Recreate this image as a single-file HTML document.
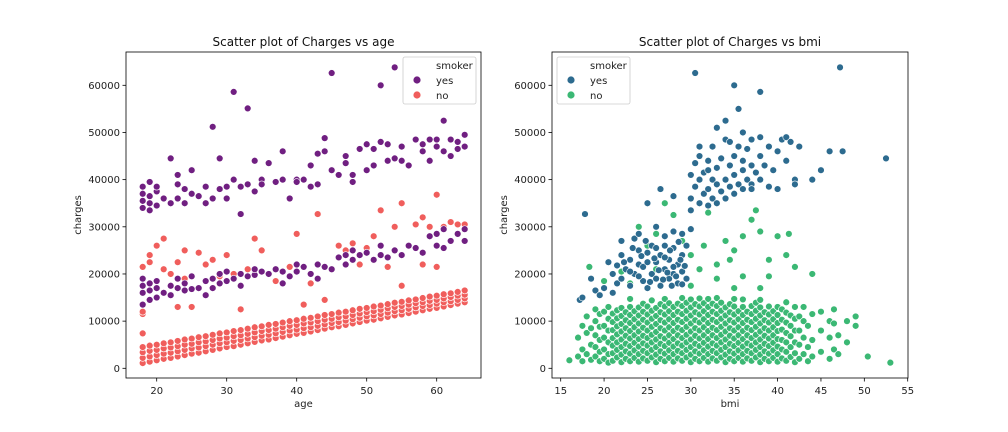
<!DOCTYPE html>
<html><head><meta charset="utf-8"><style>
body{margin:0;background:#fff;}
svg{display:block;font-family:"DejaVu Sans","Liberation Sans",sans-serif;}
</style></head><body>
<svg id="fig" width="1008" height="432" viewBox="0 0 1008 432">
<rect width="1008" height="432" fill="#fff"/>
<g id="left"></g>
<g id="right"></g>
</svg>
<script>
const ageTicks = [20, 30, 40, 50, 60];
const chargeTicks = [0, 10000, 20000, 30000, 40000, 50000, 60000];
const bmiTicks = [15, 20, 25, 30, 35, 40, 45, 50, 55];
const lowBand = [
[18,1.1,2.2,3.4,4.5],[19,1.4,2.5,3.7,4.8],[20,1.7,2.8,3.9,5.0],[21,2.0,3.1,4.2,5.3],
[22,2.2,3.3,4.4,5.5],[23,2.5,3.6,4.7,5.8],[24,2.8,3.9,5.0,6.1],[25,3.1,4.2,5.2,6.3],
[26,3.3,4.4,5.5,6.6],[27,3.6,4.7,5.7,6.8],[28,3.9,5.0,6.0,7.1],[29,4.2,5.3,6.3,7.4],
[30,4.5,5.5,6.5,7.6],[31,4.7,5.8,6.8,7.9],[32,5.0,6.0,7.0,8.1],[33,5.3,6.3,7.3,8.4],
[34,5.6,6.6,7.6,8.7],[35,5.9,6.9,7.9,8.9],[36,6.1,7.1,8.1,9.2],[37,6.4,7.4,8.4,9.4],
[38,6.7,7.7,8.7,9.7],[39,7.0,8.0,9.0,10.0],[40,7.3,8.2,9.2,10.2],[41,7.5,8.5,9.5,10.5],
[42,7.8,8.7,9.7,10.7],[43,8.1,9.0,10.0,11.0],[44,8.4,9.3,10.3,11.3],[45,8.7,9.6,10.5,11.5],
[46,8.9,9.8,10.8,11.8],[47,9.2,10.1,11.0,12.0],[48,9.5,10.4,11.3,12.3],[49,9.8,10.7,11.6,12.6],
[50,10.1,11.0,11.9,12.8],[51,10.3,11.2,12.1,13.1],[52,10.6,11.5,12.4,13.3],[53,10.9,11.8,12.7,13.6],
[54,11.2,12.1,13.0,13.9],[55,11.4,12.3,13.2,14.1],[56,11.7,12.6,13.5,14.4],[57,12.0,12.9,13.8,14.6],
[58,12.3,13.2,14.0,14.9],[59,12.6,13.4,14.3,15.2],[60,12.8,13.7,14.5,15.4],[61,13.1,14.0,14.8,15.7],
[62,13.4,14.2,15.1,15.9],[63,13.7,14.5,15.4,16.2],[64,14.0,14.8,15.6,16.5]];
const nonSmokerHigh = [[18,7.4],[18,11.5],[18,12],[18,21.5],[19,22.5],[19,24],[20,26],[21,27.5],[21,21],[22,20],[23,22.5],[23,13],[24,25],[24,19],[25,13],[26,24.5],[27,22],[28,23],[29,19.5],[30,24],[31,20],[32,12.5],[33,21],[34,27.5],[35,25],[36,20],[37,18.5],[39,21.5],[40,28.5],[41,13.5],[42,18],[43,32.7],[44,14.5],[45,21],[46,26],[47,25],[48,26.5],[49,22],[50,25.5],[51,28],[52,33.5],[53,21.5],[54,30],[55,35],[56,26],[57,30.5],[58,32],[59,30],[60,36.8],[61,30],[62,31],[63,30.5],[64,30.5],[58,22],[60,21.5],[55,17.5]];
const smokerMid = [[18,13.5],[18,16],[18,17.5],[18,19],[19,14.5],[19,16.5],[19,18],[20,15],[20,17],[20,18.5],[21,16],[22,15.5],[22,17.5],[23,17],[23,19],[24,16.5],[24,18],[25,16.8],[25,19.5],[26,17],[27,15.5],[27,18.5],[28,17],[28,19],[29,18],[29,20],[30,18.5],[30,20.5],[31,19],[32,20],[32,17.5],[33,19.5],[34,19.8],[34,21],[35,20.5],[36,20],[37,21],[38,20.5],[38,18],[39,19.5],[40,20.5],[40,22],[41,21.5],[42,20],[43,22],[43,19],[44,21.5],[45,21],[46,23.5],[47,24],[47,22],[48,23],[48,25],[49,24],[50,24.5],[51,23],[52,24],[52,26],[53,23.5],[54,25],[55,24],[56,26],[57,25.5],[58,24.5],[59,28],[60,26],[60,28.5],[61,29.5],[61,25.5],[62,27],[63,28.5],[64,29.5],[64,27]];
const smokerTop = [[18,34],[18,35.5],[18,37],[18,38.5],[19,33.5],[19,35],[19,36.5],[19,39.5],[20,34.5],[20,37.5],[20,38.5],[21,36],[22,35],[22,44.5],[23,36],[23,39],[23,41],[24,35],[24,38],[25,37],[25,42],[26,36.5],[27,38.5],[27,35],[28,51.2],[28,36],[29,44.5],[29,38],[30,38.5],[30,36],[31,58.6],[31,40],[32,32.7],[32,38.5],[33,55.1],[33,39],[34,44],[34,37.5],[35,40],[35,39],[36,43.5],[37,39.5],[38,40],[38,46],[39,36],[40,40],[40,39.5],[41,40],[42,38.5],[42,43],[43,45.5],[43,39],[44,48.8],[44,46],[45,62.6],[45,42],[46,41],[47,43.5],[47,45],[48,41],[48,39.5],[49,46.5],[50,42],[50,47.5],[51,46.5],[51,43],[52,60],[52,48],[53,44],[53,47.5],[54,63.8],[54,44.5],[55,44],[55,47],[56,43],[57,48.5],[58,46],[58,47.5],[59,48.5],[59,44],[60,48.5],[60,47],[61,52.5],[61,46],[62,48.5],[62,45],[63,48],[63,46.5],[64,49.5],[64,47]];

const greenRows = [
[16,1.7],[17,2.5,6.5],[17.5,1.5,4,9],[18,3,7.5,11],[18.5,1.8,5,8.5],[19,2.5,4.5,7,10,12.5],
[19.5,1.5,3.5,6,8.8,11.5],[20,2,4,6.5,9,12],[20.5,1.2,3,5.5,8,10.5,13],
[21,1.6,3.2,4.8,6.4,8.1,9.8,11.6],[21.5,2.3,3.9,5.5,7.2,8.9,10.6,12.3],
[22,1.3,2.9,4.5,6.1,7.8,9.4,11.1,12.8],[22.5,2.0,3.6,5.2,6.9,8.5,10.2,11.9],
[23,1.5,3.1,4.7,6.3,7.9,9.6,11.3,13.0,14.7],[23.5,2.2,3.8,5.4,7.0,8.7,10.4,12.1],
[24,1.4,3.0,4.6,6.2,7.8,9.5,11.2,12.9],[24.5,2.1,3.7,5.3,6.9,8.6,10.3,12.0,13.7],
[25,1.6,3.2,4.8,6.4,8.0,9.7,11.4,13.1],[25.5,2.3,3.9,5.5,7.1,8.8,10.5,12.2,14.4],
[26,1.3,2.9,4.5,6.1,7.7,9.4,11.1,12.8],[26.5,2.0,3.6,5.2,6.8,8.5,10.2,11.9,13.6],
[27,1.5,3.1,4.7,6.3,8.0,9.7,11.4,13.1,14.7],[27.5,2.2,3.8,5.4,7.0,8.7,10.4,12.1,13.8],
[28,1.4,3.0,4.6,6.2,7.9,9.6,11.3,13.0],[28.5,2.1,3.7,5.3,7.0,8.6,10.3,12.0,13.7],
[29,1.6,3.2,4.8,6.4,8.1,9.8,11.5,13.2,14.9],[29.5,2.3,3.9,5.5,7.1,8.8,10.5,12.2,13.9],
[30,1.3,2.9,4.5,6.1,7.8,9.5,11.2,12.9,14.6],[30.5,2.0,3.6,5.2,6.9,8.5,10.2,11.9,13.6],
[31,1.5,3.1,4.7,6.3,8.0,9.7,11.4,13.1,14.8],[31.5,2.2,3.8,5.4,7.0,8.7,10.4,12.1,13.8],
[32,1.4,3.0,4.6,6.2,7.9,9.6,11.3,13.0,14.7],[32.5,2.1,3.7,5.3,7.0,8.6,10.3,12.0,13.7],
[33,1.6,3.2,4.8,6.4,8.1,9.8,11.5,13.2,14.9],[33.5,2.3,3.9,5.5,7.1,8.8,10.5,12.2,13.9],
[34,1.3,2.9,4.5,6.1,7.8,9.5,11.2,12.9],[34.5,2.0,3.6,5.2,6.9,8.5,10.2,11.9,13.6],
[35,1.5,3.1,4.7,6.3,8.0,9.7,11.4,13.1,14.7],[35.5,2.2,3.8,5.4,7.0,8.7,10.4,12.1],
[36,1.4,3.0,4.6,6.2,7.9,9.6,11.3,13.0,14.6],[36.5,2.1,3.7,5.3,7.0,8.6,10.3,12.0],
[37,1.6,3.2,4.8,6.4,8.1,9.8,11.5,13.2],[37.5,2.3,3.9,5.5,7.1,8.8,10.5,12.2,13.9],
[38,1.3,2.9,4.5,6.1,7.8,9.5,11.2,12.9,14.5],[38.5,2.0,3.6,5.2,6.9,8.5,10.2,11.9],
[39,1.5,3.1,4.7,6.3,8.0,9.7,11.4,13.1],[39.5,2.2,3.8,5.4,7.0,8.7,10.4,12.1],
[40,1.4,3.0,4.6,6.2,7.9,9.6,11.3,13.0],[40.5,2.1,4.0,6.0,8.2,10.3,12.5],
[41,1.6,3.5,5.5,7.5,9.7,11.8,14.0],[41.5,2.4,4.5,6.8,9.0,11.2],
[42,1.3,3.2,5.5,8.0,10.5,13],[42.5,2,5,8,11],[43,3,6.5,10,13],[43.5,1.5,4.5,9],
[44,2.5,6,11.5],[45,3.5,8,12],[46,2,6.5,10],[46.5,4,9.5,12.5],[47,3,7],[48,5.5,10],
[49,9,11],[50.4,2.5],[53,1.2]];
const greenHigh = [[27,35],[28,32.5],[24,30],[25,26],[26,28.5],[30,24],[31,21],[32,33],[33,22],[34,27],[35,25],[36,28],[37,31.5],[37.5,33.5],[38,29],[40,28],[41,24],[39,23],[42,21.5],[44,20],[22,20.5],[23,18],[29,27],[33,19],[36,19.5],[38,17],[35,17],[30,17.5],[26,21],[20,18.5],[18.3,21.5],[41.3,28.5],[31.5,26],[34.5,23],[39,19.5]];
const blueLow = [[17.2,14.5],[17.5,15],[17.8,32.7],[18.5,19],[19,16.5],[19.5,15.5],[20,17],[20.5,22.5],[21,16],[21,20],[21.5,18],[22,19],[22,24],[22.5,21],[23,17.5],[23,23],[23.5,27.5],[23.5,20],[24,22],[24,25],[24.5,18.5],[24.5,21.5],[25,24.5],[25,17],[25.5,20],[25.5,26],[26,22.5],[26,19],[26.5,24],[26.5,17.5],[27,21],[27,28],[27.5,19],[27.5,23],[28,20],[28,25.5],[28.5,18],[28.5,22],[29,20.5],[29,24],[29.5,19],[29.5,26],[22,27],[24,28.5],[26,30],[27,26],[28,29],[29,28.5],[30,29.5],[26.5,38],[28,36.5],[25,35],[27.8,17.5],[28.3,19.5],[29,17.8],[23,20.5],[24,19.5],[25,22.5],[26,25.5],[27,23.5],[28,21.5],[28.8,23],[27.3,20.3],[26.3,20.8],[25.3,18.3],[24.3,23.8],[23.3,25.5],[22.3,22.5],[27.6,25],[28.6,26.8],[29.3,21.7],[21.5,21.8],[26.8,18.8],[25.8,23.3],[24.8,27]];
const blueHigh = [[30,33.5],[30,36],[30.5,38.5],[30.5,43.5],[31,35],[31,40],[31,45],[31.5,37],[31.5,41.5],[32,34.5],[32,38],[32,44],[32.5,36],[32.5,40],[32.5,47],[33,35],[33,39],[33,42.5],[33.5,37.5],[33.5,44.5],[34,36],[34,40],[34,48.5],[34.5,38.5],[34.5,43],[35,37],[35,41],[35,45],[35,60],[35.5,39],[35.5,55],[35.5,47],[36,38],[36,42],[36,50],[36.5,40],[36.5,46.5],[37,39],[37,43],[37,48.5],[37.5,41.5],[38,45],[38,40],[38,58.6],[38,49],[38.5,43],[39,38.5],[39,47],[39.5,42],[40,46],[40,38],[40.5,48.5],[41,44],[41,49],[41.5,48],[42,40],[42,39],[42.5,47],[44,40],[45,42],[46,46],[47.5,46],[47.2,63.8],[52.5,44.5],[30.5,62.6],[34,52.5],[34.5,48],[30,41],[31,47],[33,51],[36,44],[37,38],[32,42]];

const NS = 'http://www.w3.org/2000/svg';
function mk(parent, tag, attrs){const e=document.createElementNS(NS,tag);for(const k in attrs)e.setAttribute(k,attrs[k]);parent.appendChild(e);return e;}
function yScale(v){return 368.3 - v*(283/60000);}

function drawAxes(g, x0, x1, xScale, xTicks, xLabel, title){
  const frame = mk(g,'rect',{x:x0,y:52,width:x1-x0,height:326,fill:'none',stroke:'#000','stroke-width':0.8});
  
  
  xTicks.forEach(t=>{
    const x=xScale(t);
    mk(g,'line',{x1:x,x2:x,y1:378,y2:381.5,stroke:'#000','stroke-width':0.8});
    const tx=mk(g,'text',{x:x,y:394,'font-size':10,'text-anchor':'middle',fill:'#222'});
    tx.textContent=t;
    
    
  });
  chargeTicks.forEach(t=>{
    const y=yScale(t);
    mk(g,'line',{x1:x0-3.5,x2:x0,y1:y,y2:y,stroke:'#000','stroke-width':0.8});
    const ty=mk(g,'text',{x:x0-6,y:y+3.5,'font-size':10,'text-anchor':'end',fill:'#222'});
    ty.textContent=t;
    
    
  });
  const xl=mk(g,'text',{x:(x0+x1)/2,y:407,'font-size':10,'text-anchor':'middle',fill:'#222'});
  xl.textContent=xLabel;
  
  
  const yl=mk(g,'text',{x:0,y:0,'font-size':10,'text-anchor':'middle',fill:'#222',transform:`translate(${x0-45},215) rotate(-90)`});
  yl.textContent='charges';
  
  
  const tt=mk(g,'text',{x:(x0+x1)/2,y:46,'font-size':12,'text-anchor':'middle',fill:'#111'});
  tt.textContent=title;
  
  
}
function dot(g,x,y,c){
  const d=mk(g,'circle',{cx:x,cy:y,r:3.4,fill:c,stroke:'#fff','stroke-width':0.6});
  
  
}
function legend(g,x,c1,c2){
  const b=mk(g,'rect',{x:x,y:57,width:73,height:47,rx:2,fill:'#fff','fill-opacity':0.8,stroke:'#ccc','stroke-width':0.8});
  
  
  const t=mk(g,'text',{x:x+33,y:69,'font-size':10,fill:'#222'});t.textContent='smoker';
  
  
  [[c1,'yes',84],[c2,'no',99]].forEach(([c,l,y])=>{
    const m=mk(g,'circle',{cx:x+14,cy:y-4,r:3.6,fill:c});
    
    
    const s=mk(g,'text',{x:x+33,y:y,'font-size':10,fill:'#222'});s.textContent=l;
    
    
  });
}

const L=document.getElementById('left');
const ax=a=>156.7+(a-20)*7.0;
const purple='#701f81', red='#f05e5c';
const lp=mk(L,'g',{});
lowBand.forEach(r=>{for(let i=1;i<r.length;i++)dot(lp,ax(r[0]),yScale(r[i]*1000),red);});
nonSmokerHigh.forEach(p=>dot(lp,ax(p[0]),yScale(p[1]*1000),red));
smokerMid.forEach(p=>dot(lp,ax(p[0]),yScale(p[1]*1000),purple));
smokerTop.forEach(p=>dot(lp,ax(p[0]),yScale(p[1]*1000),purple));
drawAxes(L,126,481,ax,ageTicks,'age','Scatter plot of Charges vs age');
legend(L,403,purple,red);

const R=document.getElementById('right');
const bx=b=>560.7+(b-15)*8.675;
const blue='#2d6b8f', green='#3bb874';
const rp=mk(R,'g',{});
greenRows.forEach(r=>{for(let i=1;i<r.length;i++)dot(rp,bx(r[0]),yScale(r[i]*1000),green);});
greenHigh.forEach(p=>dot(rp,bx(p[0]),yScale(p[1]*1000),green));
blueLow.forEach(p=>dot(rp,bx(p[0]),yScale(p[1]*1000),blue));
blueHigh.forEach(p=>dot(rp,bx(p[0]),yScale(p[1]*1000),blue));
drawAxes(R,552,908,bx,bmiTicks,'bmi','Scatter plot of Charges vs bmi');
legend(R,557,blue,green);
</script>
</body></html>
